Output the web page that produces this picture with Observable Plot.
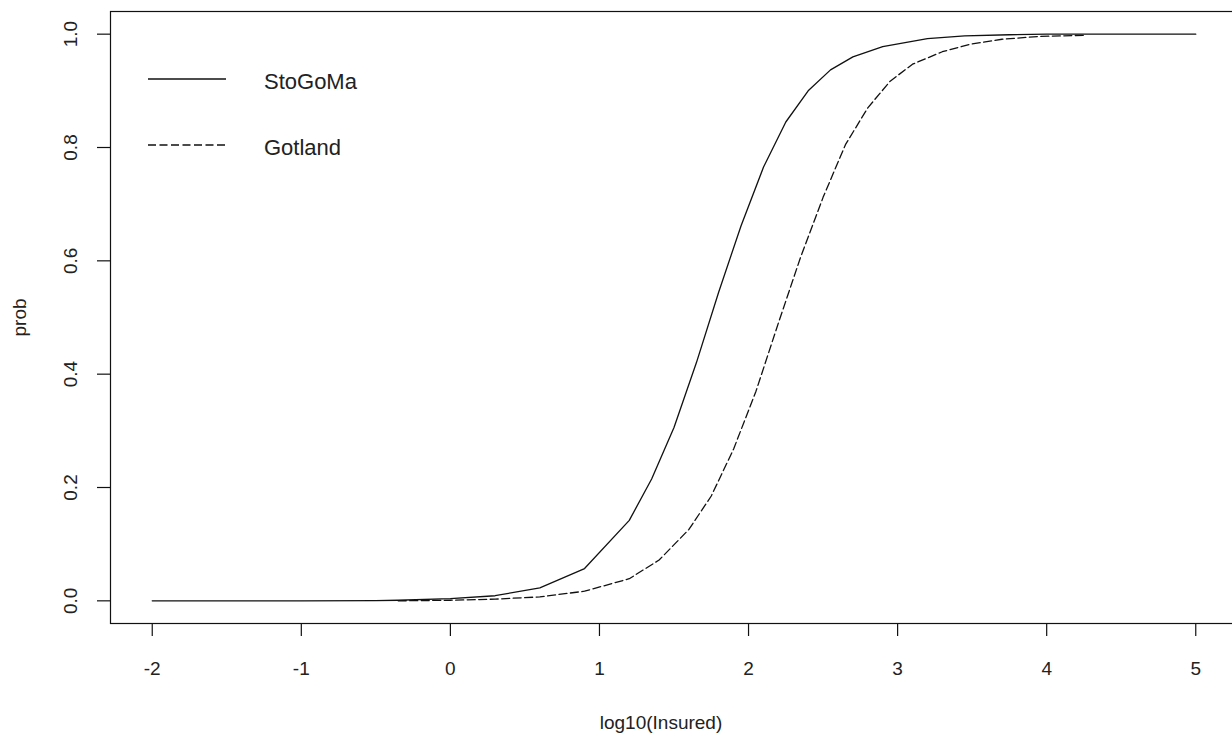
<!DOCTYPE html>
<html>
<head>
<meta charset="utf-8">
<script src="https://cdn.jsdelivr.net/npm/d3@7"></script>
<script src="https://cdn.jsdelivr.net/npm/@observablehq/plot@0.6"></script>
<style>
  body { margin: 0; background: #fff; }
  #wrap { position: relative; width: 1232px; height: 736px; overflow: hidden; font-family: "Liberation Sans", Arial, sans-serif; }
  #legend { position: absolute; left: 0; top: 0; }
</style>
</head>
<body>
<div id="wrap"></div>
<script>
// ---- data ----
const seriesNames = ["StoGoMa", "Gotland"];

const stoX = [-2, -1.5, -1, -0.5, -0.35, 0, 0.3, 0.6, 0.9, 1.2, 1.35, 1.5, 1.65, 1.8, 1.95, 2.1, 2.25, 2.4, 2.55, 2.7, 2.9, 3.2, 3.45, 3.75, 4, 4.5, 5];
const stoP = [0, 0, 0, 0.0005, 0.001, 0.004, 0.009, 0.023, 0.057, 0.142, 0.215, 0.306, 0.42, 0.545, 0.662, 0.765, 0.845, 0.9, 0.937, 0.96, 0.978, 0.992, 0.997, 0.999, 1, 1, 1];

const gotX = [-0.35, 0, 0.3, 0.6, 0.9, 1.2, 1.4, 1.6, 1.75, 1.9, 2.05, 2.2, 2.35, 2.5, 2.65, 2.8, 2.95, 3.1, 3.3, 3.5, 3.7, 3.95, 4.25];
const gotP = [0, 0.001, 0.003, 0.007, 0.017, 0.039, 0.072, 0.126, 0.185, 0.268, 0.37, 0.49, 0.607, 0.712, 0.805, 0.87, 0.917, 0.947, 0.969, 0.983, 0.991, 0.996, 0.998];

const xTicks = [-2, -1, 0, 1, 2, 3, 4, 5];
const xTickLabels = ["-2", "-1", "0", "1", "2", "3", "4", "5"];
const yTicks = [0, 0.2, 0.4, 0.6, 0.8, 1];
const yTickLabels = ["0.0", "0.2", "0.4", "0.6", "0.8", "1.0"];
const xTitle = "log10(Insured)";
const yTitle = "prob";

// ---- build ----
const sto = stoX.map((x, i) => ({x, p: stoP[i]}));
const got = gotX.map((x, i) => ({x, p: gotP[i]}));

const ink = "#111";
const textInk = "#222";
const dash = "8,3.5";
const fs = 19;

const chart = Plot.plot({
  width: 1232,
  height: 736,
  marginLeft: 110,
  marginTop: 11,
  marginBottom: 113,
  marginRight: -5,
  x: {domain: [-2.28, 5.28]},
  y: {domain: [-0.04, 1.04]},
  style: {fontFamily: "Liberation Sans, Arial, sans-serif", fontSize: fs + "px", background: "white", color: ink, overflow: "visible"},
  marks: [
    Plot.frame({stroke: ink, strokeWidth: 1.2}),
    Plot.axisX(xTicks, {tickSize: 13, fill: "none", stroke: ink, strokeWidth: 1.2, label: null}),
    Plot.axisY(yTicks, {tickSize: 13, fill: "none", stroke: ink, strokeWidth: 1.2, label: null}),
    Plot.text(xTicks, {x: d => d, text: (d, i) => xTickLabels[i], frameAnchor: "bottom", dy: 45, lineAnchor: "middle", fontSize: fs, fill: textInk}),
    Plot.text(yTicks, {y: d => d, text: (d, i) => yTickLabels[i], frameAnchor: "left", dx: -40, rotate: -90, textAnchor: "middle", lineAnchor: "middle", fontSize: fs, fill: textInk}),
    Plot.text([xTitle], {text: d => d, frameAnchor: "bottom", dy: 99, dx: -13, lineAnchor: "middle", fontSize: fs, fill: textInk}),
    Plot.text([yTitle], {text: d => d, frameAnchor: "left", dx: -91, rotate: -90, textAnchor: "middle", lineAnchor: "middle", fontSize: fs, fill: textInk}),
    Plot.line(sto, {x: "x", y: "p", stroke: ink, strokeWidth: 1.3}),
    Plot.line(got, {x: "x", y: "p", stroke: ink, strokeWidth: 1.3, strokeDasharray: dash})
  ]
});

const wrap = document.getElementById("wrap");
wrap.appendChild(chart);

// ---- legend (inside plot area, top-left, as in the original) ----
const legendItems = [
  {name: seriesNames[0], dashed: false, y: 79},
  {name: seriesNames[1], dashed: true, y: 145}
];
const lg = d3.create("svg").attr("id", "legend").attr("width", 420).attr("height", 180);
for (const it of legendItems) {
  lg.append("line")
    .attr("x1", 148).attr("x2", 226).attr("y1", it.y).attr("y2", it.y)
    .attr("stroke", ink).attr("stroke-width", 1.3)
    .attr("stroke-dasharray", it.dashed ? dash : null);
  lg.append("text")
    .attr("x", 264).attr("y", it.y + 2)
    .attr("dy", "0.35em")
    .attr("font-family", "Liberation Sans, Arial, sans-serif")
    .attr("font-size", 22)
    .attr("fill", textInk)
    .text(it.name);
}
wrap.appendChild(lg.node());
</script>
</body>
</html>
